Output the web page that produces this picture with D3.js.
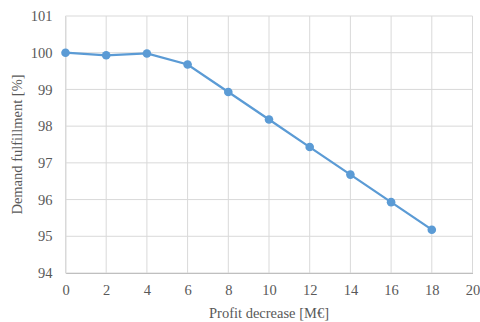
<!DOCTYPE html>
<html><head><meta charset="utf-8">
<script src="https://cdn.jsdelivr.net/npm/d3@7"></script>
<style>body{margin:0;background:#fff;}</style>
</head><body>
<svg id="c" width="480" height="322"></svg>
<script>
const xValues = [0, 2, 4, 6, 8, 10, 12, 14, 16, 18];
const demandValues = [100, 99.93, 99.98, 99.68, 98.93, 98.18, 97.43, 96.68, 95.93, 95.18];
const xTicks = [0, 2, 4, 6, 8, 10, 12, 14, 16, 18, 20];
const yTicks = [94, 95, 96, 97, 98, 99, 100, 101];

const FONT = "Liberation Serif";
const svg = d3.select("#c");
const L = 65.5, R = 472.5, T = 16, B = 273;
const x = d3.scaleLinear().domain([0, 20]).range([L, R]);
const y = d3.scaleLinear().domain([94, 101]).range([B, T]);

const grid = svg.append("g");
grid.selectAll(".v").data(xTicks).enter().append("line")
  .attr("x1", d => x(d)).attr("x2", d => x(d)).attr("y1", T).attr("y2", B)
  .attr("stroke", "#d9d9d9").attr("stroke-width", 1);
grid.selectAll(".h").data(yTicks).enter().append("line")
  .attr("x1", L).attr("x2", R).attr("y1", d => y(d)).attr("y2", d => y(d))
  .attr("stroke", "#d9d9d9").attr("stroke-width", 1);

const xAxis = svg.append("g").attr("transform", `translate(0,${B})`)
  .call(d3.axisBottom(x).tickValues(xTicks).tickSize(0).tickPadding(12).tickFormat(d3.format("d")))
  .attr("font-family", null).attr("font-size", null);
xAxis.select(".domain").attr("stroke", "#bfbfbf");
xAxis.selectAll("text").attr("fill", "#595959").style("font-family", FONT).style("font-size", "14.5px");

const yAxis = svg.append("g").attr("transform", `translate(${L},0)`)
  .call(d3.axisLeft(y).tickValues(yTicks).tickSize(0).tickPadding(13).tickFormat(d3.format("d")))
  .attr("font-family", null).attr("font-size", null);
yAxis.select(".domain").attr("stroke", "#d9d9d9");
yAxis.selectAll("text").attr("fill", "#595959").style("font-family", FONT).style("font-size", "14.5px");

const data = xValues.map((v, i) => ({x: v, y: demandValues[i]}));
svg.append("path").datum(data)
  .attr("fill", "none").attr("stroke", "#5b9bd5").attr("stroke-width", 2.25)
  .attr("d", d3.line().x(d => x(d.x)).y(d => y(d.y)));
svg.selectAll(".pt").data(data).enter().append("circle")
  .attr("cx", d => x(d.x)).attr("cy", d => y(d.y)).attr("r", 4.3)
  .attr("fill", "#5b9bd5");

svg.append("text").attr("x", 269).attr("y", 318).attr("text-anchor", "middle")
  .style("font-family", FONT).style("font-size", "14.5px")
  .attr("fill", "#595959").text("Profit decrease [M€]");
svg.append("text").attr("transform", `translate(22,${(T + B) / 2}) rotate(-90)`)
  .attr("text-anchor", "middle").attr("fill", "#595959")
  .style("font-family", FONT).style("font-size", "14.5px")
  .text("Demand fulfillment [%]");
</script>
</body></html>
